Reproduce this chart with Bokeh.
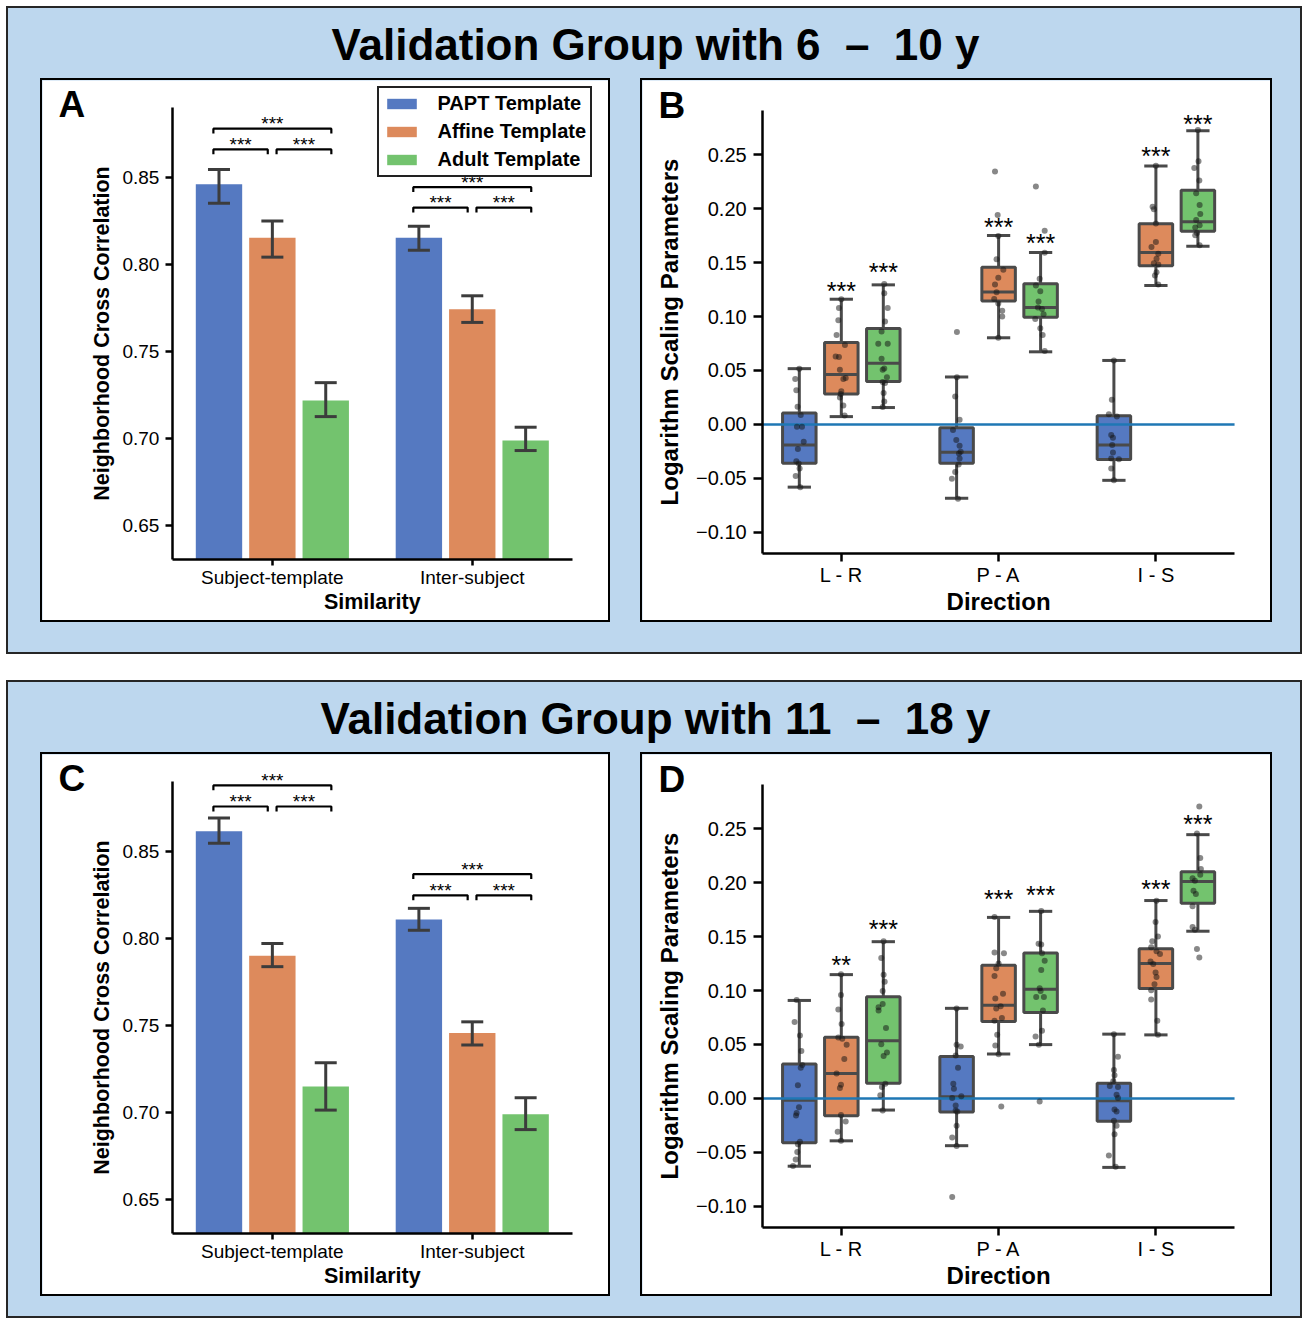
from bokeh.plotting import figure
from bokeh.models import (Range1d, Legend, LegendItem, FixedTicker,
                          CustomJSTickFormatter, Spacer)
from bokeh.layouts import column, row
from bokeh.embed import file_html
from bokeh.resources import INLINE
from bokeh.core.properties import value

# ---------------- data ----------------
TEMPLATES = ["PAPT Template", "Affine Template", "Adult Template"]
SIMILARITY = ["Subject-template", "Inter-subject"]
DIRECTIONS = ["L - R", "P - A", "I - S"]
TITLE_1 = "Validation Group with 6 \u00a0\u2013\u00a0 10 y"
TITLE_2 = "Validation Group with 11 \u00a0\u2013\u00a0 18 y"
AC_XLABEL, AC_YLABEL = "Similarity", "Neighborhood Cross Correlation"
BD_XLABEL, BD_YLABEL = "Direction", "Logarithm Scaling Parameters"
AC_YTICKS = [0.65, 0.70, 0.75, 0.80, 0.85]
BD_YTICKS = [-0.10, -0.05, 0.00, 0.05, 0.10, 0.15, 0.20, 0.25]

# bar panels: [template][similarity]
A_mean = [[0.8459, 0.8152], [0.8152, 0.7740], [0.7216, 0.6987]]
A_ci_lo = [[0.8349, 0.8079], [0.8040, 0.7665], [0.7124, 0.6929]]
A_ci_hi = [[0.8544, 0.8218], [0.8247, 0.7818], [0.7319, 0.7063]]
A_sig_level = [[0.8659, 0.8778], [0.8325, 0.8442]]   # [similarity][pair level, overall level]
C_mean = [[0.8614, 0.8107], [0.7898, 0.7455], [0.7147, 0.6988]]
C_ci_lo = [[0.8545, 0.8045], [0.7836, 0.7386], [0.7012, 0.6900]]
C_ci_hi = [[0.8690, 0.8171], [0.7969, 0.7519], [0.7284, 0.7083]]
C_sig_level = [[0.8756, 0.8877], [0.8246, 0.8367]]
SIG_PAIRS = ["***", "***", "***"]

# box panels: [template][direction] = [whisker_lo, q1, median, q3, whisker_hi]
B_box = [
    [[-0.0580, -0.0360, -0.0190, 0.0107, 0.0517], [-0.0683, -0.0360, -0.0257, -0.0030, 0.0440], [-0.0517, -0.0323, -0.0190, 0.0080, 0.0593]],
    [[0.0073, 0.0283, 0.0463, 0.0760, 0.1160], [0.0803, 0.1143, 0.1227, 0.1457, 0.1750], [0.1287, 0.1470, 0.1593, 0.1860, 0.2393]],
    [[0.0157, 0.0397, 0.0567, 0.0890, 0.1293], [0.0673, 0.0993, 0.1083, 0.1303, 0.1593], [0.1650, 0.1790, 0.1877, 0.2170, 0.2720]],
]
D_box = [
    [[-0.0627, -0.0409, -0.0017, 0.0319, 0.0908], [-0.0437, -0.0125, 0.0017, 0.0388, 0.0835], [-0.0638, -0.0211, -0.0021, 0.0142, 0.0596]],
    [[-0.0392, -0.0159, 0.0232, 0.0568, 0.1147], [0.0412, 0.0714, 0.0863, 0.1234, 0.1677], [0.0589, 0.1019, 0.1251, 0.1386, 0.1833]],
    [[-0.0107, 0.0142, 0.0534, 0.0942, 0.1452], [0.0499, 0.0797, 0.1012, 0.1348, 0.1733], [0.1549, 0.1809, 0.2010, 0.2100, 0.2443]],
]
B_stars = [["", "", ""], ["***", "***", "***"], ["***", "***", "***"]]
B_star_y = [[None, None, None], [0.1283, 0.1883, 0.2533], [0.1466, 0.1733, 0.2836]]
D_stars = [["", "", ""], ["**", "***", "***"], ["***", "***", "***"]]
D_star_y = [[None, None, None], [0.1289, 0.1895, 0.1992], [0.1624, 0.1937, 0.2595]]

# individual subjects (strip points) [template][direction], with read jitter
B_pts = [
    [[0.0517, 0.0422, 0.0316, 0.0164, 0.0089, -0.0020, -0.0020, -0.0160, -0.0228, -0.0340, -0.0362, -0.0408, -0.0477, -0.0580],
     [0.0857, 0.0437, 0.0260, 0.0043, -0.0050, -0.0144, -0.0197, -0.0253, -0.0268, -0.0315, -0.0371, -0.0439, -0.0502, -0.0688],
     [0.0593, 0.0229, 0.0095, 0.0074, -0.0097, -0.0122, -0.0190, -0.0259, -0.0315, -0.0321, -0.0408, -0.0517]],
    [[0.1160, 0.1078, 0.0966, 0.0829, 0.0736, 0.0630, 0.0624, 0.0506, 0.0431, 0.0422, 0.0307, 0.0282, 0.0251, 0.0176, 0.0083],
     [0.2343, 0.1939, 0.1746, 0.1529, 0.1433, 0.1358, 0.1296, 0.1224, 0.1162, 0.1121, 0.1053, 0.1000, 0.0804],
     [0.2396, 0.2017, 0.1992, 0.1862, 0.1690, 0.1644, 0.1582, 0.1535, 0.1494, 0.1482, 0.1410, 0.1380, 0.1296]],
    [[0.1302, 0.1215, 0.1078, 0.0954, 0.0860, 0.0748, 0.0748, 0.0608, 0.0518, 0.0506, 0.0437, 0.0394, 0.0385, 0.0291, 0.0214, 0.0161],
     [0.2203, 0.1793, 0.1591, 0.1349, 0.1286, 0.1233, 0.1140, 0.1084, 0.1069, 0.1022, 0.0976, 0.0892, 0.0829, 0.0680],
     [0.2726, 0.2437, 0.2375, 0.2259, 0.2142, 0.2033, 0.1949, 0.1893, 0.1846, 0.1825, 0.1774, 0.1753, 0.1660]],
]
B_jit = [
    [[0.000, -0.026, -0.019, -0.011, 0.009, -0.015, 0.017, 0.028, -0.009, -0.019, -0.004, 0.002, -0.023, 0.006],
     [0.002, 0.002, -0.009, 0.019, -0.023, -0.002, 0.019, 0.026, 0.015, 0.019, 0.013, -0.009, -0.030, 0.009],
     [0.000, -0.013, -0.032, 0.019, -0.017, -0.006, -0.011, -0.006, -0.017, 0.032, -0.017, 0.000]],
    [[0.000, -0.015, -0.019, -0.030, 0.023, -0.036, -0.015, -0.009, 0.028, 0.013, 0.000, -0.004, -0.009, 0.013, 0.021],
     [-0.023, -0.006, -0.002, -0.013, 0.030, -0.002, -0.023, -0.013, -0.028, -0.002, 0.023, 0.023, -0.002],
     [0.000, -0.021, -0.013, 0.000, 0.000, -0.028, 0.015, 0.004, -0.013, 0.015, 0.004, -0.006, 0.015]],
    [[0.006, 0.006, 0.028, 0.011, -0.011, -0.032, 0.028, -0.011, 0.006, -0.004, 0.023, -0.004, 0.011, 0.002, 0.006, -0.004],
     [-0.030, 0.026, 0.026, -0.006, -0.030, -0.002, -0.013, -0.017, 0.009, 0.019, -0.034, -0.002, 0.013, 0.026],
     [0.000, 0.004, -0.023, 0.009, -0.011, 0.011, 0.015, -0.011, 0.011, -0.017, -0.006, -0.017, 0.011]],
]
D_pts = [
    [[0.0911, 0.0708, 0.0584, 0.0440, 0.0310, 0.0284, 0.0122, -0.0081, -0.0134, -0.0158, -0.0401, -0.0423, -0.0495, -0.0564, -0.0626],
     [0.0833, 0.0497, 0.0481, 0.0397, 0.0284, 0.0137, 0.0091, 0.0020, 0.0004, -0.0065, -0.0111, -0.0121, -0.0252, -0.0361, -0.0439, -0.0913],
     [0.0596, 0.0387, 0.0263, 0.0216, 0.0160, 0.0116, 0.0107, 0.0035, 0.0004, -0.0102, -0.0121, -0.0205, -0.0252, -0.0330, -0.0527, -0.0632]],
    [[0.1151, 0.0958, 0.0824, 0.0689, 0.0565, 0.0553, 0.0497, 0.0366, 0.0231, 0.0128, 0.0097, -0.0152, -0.0214, -0.0308, -0.0392],
     [0.1681, 0.1353, 0.1344, 0.1250, 0.1207, 0.1135, 0.0970, 0.0927, 0.0855, 0.0833, 0.0745, 0.0721, 0.0590, 0.0490, 0.0409, -0.0074],
     [0.1830, 0.1634, 0.1500, 0.1456, 0.1400, 0.1363, 0.1338, 0.1269, 0.1245, 0.1166, 0.1126, 0.1058, 0.1002, 0.0917, 0.0721, 0.0590]],
    [[0.1456, 0.1301, 0.1145, 0.1082, 0.0995, 0.0876, 0.0845, 0.0815, 0.0652, 0.0502, 0.0427, 0.0394, 0.0137, 0.0107, 0.0029, -0.0111],
     [0.1737, 0.1432, 0.1425, 0.1344, 0.1276, 0.1189, 0.1020, 0.0995, 0.0939, 0.0939, 0.0815, 0.0627, 0.0574, 0.0497, -0.0027],
     [0.2704, 0.2454, 0.2227, 0.2124, 0.2071, 0.2040, 0.2017, 0.1924, 0.1893, 0.1781, 0.1587, 0.1563, 0.1385, 0.1306]],
]
D_jit = [
    [[-0.017, -0.030, 0.004, 0.013, 0.019, 0.009, -0.009, -0.002, -0.017, -0.021, 0.004, -0.009, -0.013, -0.023, -0.040],
     [0.000, 0.000, 0.026, -0.006, 0.009, -0.021, -0.017, 0.030, -0.028, -0.006, -0.006, 0.004, 0.000, -0.028, 0.000, -0.028],
     [0.000, 0.026, 0.000, 0.004, -0.004, -0.026, 0.026, 0.017, 0.026, 0.004, 0.017, 0.000, 0.017, 0.004, -0.032, 0.011]],
    [[-0.002, -0.002, -0.019, 0.002, -0.019, 0.006, 0.034, 0.019, -0.030, -0.002, -0.009, -0.002, 0.028, -0.023, -0.002],
     [-0.026, -0.026, 0.034, 0.000, -0.015, -0.026, 0.028, -0.021, 0.013, -0.015, 0.021, -0.026, -0.009, -0.021, 0.000, 0.017],
     [0.004, -0.002, 0.013, -0.023, -0.030, 0.004, 0.026, -0.034, -0.017, -0.002, 0.004, -0.009, -0.030, -0.030, 0.009, 0.013]],
    [[0.002, -0.013, 0.002, 0.009, -0.004, -0.004, -0.030, -0.030, 0.017, -0.013, 0.023, 0.002, 0.013, -0.009, -0.019, -0.004],
     [0.004, -0.013, 0.004, 0.009, 0.026, 0.004, -0.006, 0.000, -0.028, 0.021, 0.015, 0.009, -0.032, -0.011, -0.006],
     [0.009, -0.006, 0.015, 0.019, 0.015, -0.034, -0.019, -0.028, -0.013, -0.034, -0.034, -0.019, -0.006, 0.009]],
]

# ---------------- style ----------------
FONT = "Liberation Sans"
BG = "#bdd7ee"
COLORS = ["#5579c1", "#dd8a5c", "#73c36e"]
OFFS = [-0.267, 0.0, 0.267]
MID = 0.35          # em offset of the text "middle" above the alphabetic baseline
AC_YMIN, AC_AXTOP = 0.6303, 0.8897
BD_YMIN, BD_AXTOP = -0.1199, 0.2907
PANEL_BORDER = {"border": "2px solid black"}

# panel geometry (canvas px): width, height, y-axis x position, x-axis y position (from top)
AC_W, AC_H, AC_AXL, AC_AXB = 566, 540, 129, 475.5
AC_PXX, AC_PXY = 198.5, 1728.0
BD_W, BD_H, BD_AXL, BD_AXB = 628, 540, 119.4, 470
BD_PXX, BD_PXY = 156.3, 1072.0


def style_axes(p, tick_size, label_size, ytick, xtick, ystand, xstand, ylab_stand):
    for ax in (p.xaxis[0], p.yaxis[0]):
        ax.axis_line_width = 2.5
        ax.axis_line_color = "black"
        ax.major_tick_line_width = 2.5
        ax.major_tick_line_color = "black"
        ax.major_tick_in = 0
        ax.minor_tick_line_color = None
        ax.major_label_text_font = FONT
        ax.major_label_text_font_size = tick_size
        ax.major_label_text_color = "black"
        ax.axis_label_text_font = FONT
        ax.axis_label_text_font_style = "bold"
        ax.axis_label_text_font_size = label_size
        ax.axis_label_text_color = "black"
    p.yaxis[0].major_tick_out = ytick
    p.xaxis[0].major_tick_out = xtick
    p.yaxis[0].major_label_standoff = ystand
    p.xaxis[0].major_label_standoff = xstand
    p.yaxis[0].axis_label_standoff = ylab_stand
    p.xgrid.visible = False
    p.ygrid.visible = False


def make_frame(W, H, AXL, AXB, PXX, PXY, YMIN):
    x0 = -0.5 - AXL / PXX
    x1 = -0.5 + (W - AXL) / PXX
    y0 = YMIN - (H - AXB) / PXY
    y1 = YMIN + AXB / PXY
    p = figure(width=W + 4, height=H + 4, x_range=Range1d(x0, x1), y_range=Range1d(y0, y1),
               output_backend="svg", toolbar_location=None, min_border=0,
               min_border_left=0, min_border_right=0, min_border_top=0, min_border_bottom=0,
               background_fill_color="white", border_fill_color="white",
               outline_line_color=None, styles=PANEL_BORDER)
    p.yaxis.fixed_location = -0.5
    p.xaxis.fixed_location = YMIN
    return p, x0, y1


def bar_panel(letter, mean, lo, hi, sig_level, with_legend):
    p, x0, ytop = make_frame(AC_W, AC_H, AC_AXL, AC_AXB, AC_PXX, AC_PXY, AC_YMIN)
    style_axes(p, "19px", "21.5px", 7, 6, 6, 1, 6)
    p.yaxis.bounds = (AC_YMIN, AC_AXTOP)
    p.xaxis.bounds = (-0.5, len(SIMILARITY) - 0.5)
    p.yaxis.ticker = FixedTicker(ticks=AC_YTICKS)
    p.yaxis.formatter = CustomJSTickFormatter(code="return tick.toFixed(2);")
    p.xaxis.ticker = FixedTicker(ticks=list(range(len(SIMILARITY))))
    p.xaxis.formatter = CustomJSTickFormatter(args=dict(labels=SIMILARITY),
                                              code="return labels[Math.round(tick)] || '';")
    p.yaxis.axis_label = AC_YLABEL
    p.text(x=[(len(SIMILARITY) - 1) / 2], y=[AC_YMIN - 42 / AC_PXY], text=[AC_XLABEL],
           text_font=value(FONT), text_font_style="bold", text_font_size="21.5px",
           text_align="center", text_baseline="middle", text_color="black")

    bars = []
    ec = "#3c3c3c"
    for j in range(3):
        xs = [k + OFFS[j] for k in range(len(SIMILARITY))]
        r = p.vbar(x=xs, top=mean[j], bottom=AC_YMIN, width=0.232,
                   fill_color=COLORS[j], line_color=None)
        bars.append(r)
        p.segment(x0=xs, y0=lo[j], x1=xs, y1=hi[j], line_color=ec, line_width=3)
        p.segment(x0=[x - 0.055 for x in xs], y0=lo[j], x1=[x + 0.055 for x in xs], y1=lo[j],
                  line_color=ec, line_width=3)
        p.segment(x0=[x - 0.055 for x in xs], y0=hi[j], x1=[x + 0.055 for x in xs], y1=hi[j],
                  line_color=ec, line_width=3)

    tick = 0.0028
    bx, by, tx, ty, tt = [], [], [], [], []
    for k in range(len(SIMILARITY)):
        low, top = sig_level[k]
        spans = [(k + OFFS[0] - 0.028, k + OFFS[1] - 0.023, low),
                 (k + OFFS[1] + 0.021, k + OFFS[2] + 0.028, low),
                 (k + OFFS[0] - 0.028, k + OFFS[2] + 0.028, top)]
        for (a, b, yv), s in zip(spans, SIG_PAIRS):
            bx.append([a, a, b, b])
            by.append([yv - tick, yv, yv, yv - tick])
            tx.append((a + b) / 2)
            ty.append(yv + 4.8 / AC_PXY)
            tt.append(s)
    p.multi_line(xs=bx, ys=by, line_color="black", line_width=2.2)
    p.text(x=tx, y=ty, text=tt, text_font=value(FONT), text_font_size="19px",
           text_align="center", text_baseline="middle", text_color="black")

    if with_legend:
        leg = Legend(items=[LegendItem(label=TEMPLATES[j], renderers=[bars[j]]) for j in range(3)],
                     location=(334.5, AC_H - 92.5))
        leg.border_line_color = "#222222"
        leg.border_line_alpha = 1.0
        leg.border_line_width = 2
        leg.background_fill_color = "white"
        leg.background_fill_alpha = 1.0
        leg.label_text_font = FONT
        leg.label_text_font_style = "bold"
        leg.label_text_font_size = "20px"
        leg.label_text_color = "black"
        leg.glyph_width = 37
        leg.glyph_height = 13
        leg.label_standoff = 18
        leg.padding = 4
        leg.spacing = 5
        leg.margin = 0
        p.add_layout(leg)

    # panel letter (baseline 37px below the top of the panel)
    p.text(x=[x0 + 16 / AC_PXX], y=[ytop - (37 - MID * 37) / AC_PXY], text=[letter],
           text_font=value(FONT), text_font_style="bold", text_font_size="37px",
           text_align="left", text_baseline="middle", text_color="black")
    return p


def box_panel(letter, box, pts, jit, stars, star_y):
    p, x0, ytop = make_frame(BD_W, BD_H, BD_AXL, BD_AXB, BD_PXX, BD_PXY, BD_YMIN)
    style_axes(p, "20px", "24px", 9, 8, 7, 2, 10)
    p.yaxis.bounds = (BD_YMIN, BD_AXTOP)
    p.xaxis.bounds = (-0.5, len(DIRECTIONS) - 0.5)
    p.yaxis.ticker = FixedTicker(ticks=BD_YTICKS)
    p.yaxis.formatter = CustomJSTickFormatter(
        code="var s = Math.abs(tick).toFixed(2); return (tick < -1e-9 ? '\u2212' : '') + s;")
    p.xaxis.ticker = FixedTicker(ticks=list(range(len(DIRECTIONS))))
    p.xaxis.formatter = CustomJSTickFormatter(args=dict(labels=DIRECTIONS),
                                              code="return labels[Math.round(tick)] || '';")
    p.yaxis.axis_label = BD_YLABEL
    p.text(x=[(len(DIRECTIONS) - 1) / 2], y=[BD_YMIN - 47 / BD_PXY], text=[BD_XLABEL],
           text_font=value(FONT), text_font_style="bold", text_font_size="24px",
           text_align="center", text_baseline="middle", text_color="black")

    lc = "#4a4a4a"
    hw = 0.1065
    cw = 0.074
    for j in range(3):
        xs = [i + OFFS[j] for i in range(len(DIRECTIONS))]
        lo = [b[0] for b in box[j]]
        q1 = [b[1] for b in box[j]]
        md = [b[2] for b in box[j]]
        q3 = [b[3] for b in box[j]]
        hi = [b[4] for b in box[j]]
        p.segment(x0=xs, y0=q3, x1=xs, y1=hi, line_color=lc, line_width=3)
        p.segment(x0=xs, y0=lo, x1=xs, y1=q1, line_color=lc, line_width=3)
        p.segment(x0=[x - cw for x in xs], y0=hi, x1=[x + cw for x in xs], y1=hi, line_color=lc, line_width=3)
        p.segment(x0=[x - cw for x in xs], y0=lo, x1=[x + cw for x in xs], y1=lo, line_color=lc, line_width=3)
        p.vbar(x=xs, top=q3, bottom=q1, width=2 * hw, fill_color=COLORS[j],
               line_color=lc, line_width=3)
        p.segment(x0=[x - hw for x in xs], y0=md, x1=[x + hw for x in xs], y1=md, line_color=lc, line_width=3)

    # zero reference line across the x-axis extent
    p.segment(x0=[-0.5], y0=[0.0], x1=[len(DIRECTIONS) - 0.5], y1=[0.0],
              line_color="#1f77b4", line_width=2.5)

    for j in range(3):
        for i in range(len(DIRECTIONS)):
            xs = [i + OFFS[j] + d for d in jit[j][i]]
            p.scatter(x=xs, y=pts[j][i], size=6, fill_color="#111111", fill_alpha=0.5, line_color=None)

    sx, sy, st = [], [], []
    for j in range(3):
        for i in range(len(DIRECTIONS)):
            if stars[j][i]:
                sx.append(i + OFFS[j])
                sy.append(star_y[j][i] - 5.5 / BD_PXY)
                st.append(stars[j][i])
    p.text(x=sx, y=sy, text=st, text_font=value(FONT), text_font_size="25px",
           text_align="center", text_baseline="middle", text_color="black")

    p.text(x=[x0 + 16 / BD_PXX], y=[ytop - (37.5 - MID * 37) / BD_PXY], text=[letter],
           text_font=value(FONT), text_font_style="bold", text_font_size="37px",
           text_align="left", text_baseline="middle", text_color="black")
    return p


def title_fig(text):
    W = 1292
    p = figure(width=W, height=70, x_range=Range1d(0, W), y_range=Range1d(0, 70),
               output_backend="svg", toolbar_location=None, min_border=0,
               x_axis_location=None, y_axis_location=None,
               background_fill_color=BG, border_fill_color=BG, outline_line_color=None)
    p.grid.visible = False
    p.text(x=[647], y=[19 + MID * 44], text=[text], text_font=value(FONT), text_font_style="bold",
           text_font_size="44px", text_align="center", text_baseline="middle",
           text_color="black")
    return p


GROUP_STYLE = {"background-color": BG, "border": "2px solid #262626"}

pA = bar_panel("A", A_mean, A_ci_lo, A_ci_hi, A_sig_level, True)
pB = box_panel("B", B_box, B_pts, B_jit, B_stars, B_star_y)
pC = bar_panel("C", C_mean, C_ci_lo, C_ci_hi, C_sig_level, False)
pD = box_panel("D", D_box, D_pts, D_jit, D_stars, D_star_y)

group1 = column(title_fig(TITLE_1),
                row(Spacer(width=32, height=544), pA, Spacer(width=30, height=544), pB),
                Spacer(width=10, height=30), styles=GROUP_STYLE)
group2 = column(title_fig(TITLE_2),
                row(Spacer(width=32, height=544), pC, Spacer(width=30, height=544), pD),
                Spacer(width=10, height=20), styles=GROUP_STYLE)

layout = column(Spacer(width=10, height=6),
                row(Spacer(width=6, height=10),
                    column(group1, Spacer(width=10, height=26), group2)))
open("out.html", "w").write(file_html(layout, INLINE, "Validation groups"))
